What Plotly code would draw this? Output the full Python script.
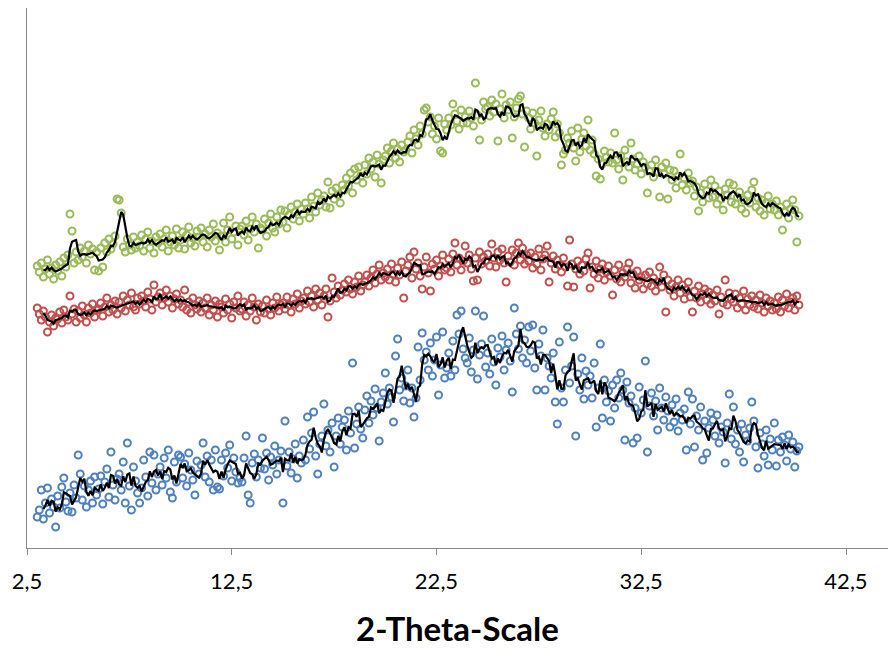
import numpy as np
import pandas as pd
import plotly.graph_objects as go

# Diffraction patterns, intensity in arbitrary units (patterns are offset vertically).
# One reading every 0.1 degree 2-theta, starting at 3.0.
TWO_THETA_START = 3.0
TWO_THETA_STEP = 0.1

green_counts = [
    282, 276, 285, 271, 279, 288, 274, 280, 269, 283,
    277, 286, 272, 290, 281, 293, 334, 317, 285, 296,
    288, 300, 291, 297, 285, 303, 294, 299, 278, 296,
    277, 300, 281, 305, 296, 309, 299, 304, 312, 349,
    348, 335, 301, 296, 309, 303, 298, 311, 300, 306,
    302, 313, 297, 309, 316, 300, 307, 295, 311, 305,
    314, 301, 309, 318, 297, 306, 312, 303, 319, 300,
    308, 316, 299, 313, 321, 305, 310, 302, 317, 311,
    320, 306, 314, 301, 318, 311, 324, 307, 315, 298,
    312, 325, 306, 318, 331, 309, 316, 322, 303, 319,
    322, 313, 327, 308, 319, 331, 316, 324, 300, 320,
    318, 329, 312, 325, 334, 320, 316, 331, 324, 338,
    326, 337, 320, 333, 341, 329, 336, 344, 327, 339,
    334, 345, 339, 330, 351, 342, 336, 355, 343, 348,
    352, 341, 366, 340, 357, 349, 360, 353, 345, 363,
    358, 370, 362, 375, 355, 379, 368, 381, 372, 365,
    383, 374, 390, 379, 386, 371, 393, 384, 365, 388,
    392, 400, 385, 397, 405, 390, 399, 386, 403, 396,
    398, 406, 412, 395, 418, 409, 403, 422, 414, 438,
    440, 426, 431, 414, 422, 409, 430, 397, 395, 424,
    418, 430, 423, 444, 434, 427, 419, 438, 425, 431,
    425, 437, 430, 422, 465, 433, 408, 428, 446, 439,
    441, 432, 448, 436, 444, 407, 439, 454, 430, 443,
    438, 446, 410, 431, 440, 449, 452, 434, 401, 437,
    430, 419, 435, 425, 392, 428, 437, 420, 412, 424,
    418, 429, 436, 411, 424, 415, 383, 394, 398, 410,
    405, 417, 400, 387, 420, 396, 409, 415, 402, 428,
    398, 408, 394, 372, 389, 369, 384, 397, 391, 386,
    395, 385, 415, 388, 379, 392, 368, 398, 386, 381,
    405, 389, 378, 384, 392, 374, 386, 381, 355, 377,
    383, 371, 388, 376, 351, 381, 374, 385, 349, 378,
    368, 377, 360, 372, 394, 363, 370, 358, 375, 365,
    367, 352, 361, 337, 355, 346, 364, 357, 350, 368,
    351, 362, 344, 357, 349, 338, 359, 353, 365, 346,
    363, 344, 351, 356, 339, 348, 335, 353, 345, 358,
    366, 341, 350, 337, 348, 333, 345, 352, 339, 344,
    338, 347, 333, 341, 318, 336, 344, 330, 339, 348,
    338, 306, 332,
]

red_counts = [
    240, 234, 228, 237, 231, 216, 226, 233, 222, 230,
    229, 236, 225, 238, 231, 228, 252, 234, 239, 226,
    237, 230, 242, 233, 226, 240, 235, 244, 231, 238,
    239, 245, 232, 241, 250, 236, 243, 238, 247, 234,
    246, 240, 252, 237, 248, 243, 255, 241, 238, 250,
    244, 252, 247, 241, 256, 249, 238, 263, 246, 251,
    255, 243, 250, 258, 246, 252, 240, 249, 254, 244,
    248, 241, 258, 238, 246, 235, 250, 243, 239, 247,
    236, 245, 240, 250, 233, 243, 238, 247, 231, 244,
    241, 235, 249, 238, 244, 230, 246, 240, 252, 237,
    239, 246, 232, 243, 237, 250, 241, 228, 244, 236,
    242, 235, 248, 239, 233, 245, 240, 251, 237, 243,
    245, 239, 251, 243, 236, 249, 244, 254, 240, 247,
    250, 244, 257, 246, 252, 241, 259, 248, 255, 243,
    252, 259, 231, 247, 270, 256, 250, 262, 253, 258,
    264, 256, 268, 259, 254, 266, 261, 272, 257, 263,
    266, 273, 262, 270, 278, 265, 274, 283, 268, 275,
    271, 279, 268, 284, 274, 266, 280, 273, 286, 250,
    277, 283, 291, 270, 296, 279, 285, 272, 259, 281,
    291, 275, 257, 284, 279, 288, 272, 282, 293, 278,
    280, 289, 276, 294, 305, 283, 290, 278, 287, 302,
    285, 293, 279, 267, 290, 268, 296, 284, 291, 287,
    294, 282, 304, 290, 281, 296, 288, 299, 285, 266,
    292, 286, 298, 283, 295, 305, 288, 300, 284, 293,
    287, 295, 280, 291, 284, 299, 278, 289, 293, 302,
    266, 285, 292, 279, 288, 283, 276, 290, 281, 262,
    308, 284, 261, 279, 287, 274, 283, 277, 289, 295,
    260, 281, 274, 287, 270, 279, 284, 268, 276, 282,
    272, 253, 278, 269, 283, 266, 275, 271, 279, 285,
    265, 274, 260, 277, 268, 271, 259, 273, 264, 276,
    262, 270, 257, 266, 281, 261, 273, 236, 268, 258,
    264, 252, 261, 268, 255, 263, 249, 258, 266, 251,
    236, 257, 250, 262, 246, 254, 259, 248, 256, 244,
    253, 247, 258, 234, 251, 245, 268, 243, 255, 249,
    246, 254, 240, 250, 244, 257, 238, 249, 243, 252,
    241, 248, 239, 253, 245, 236, 250, 242, 247, 238,
    245, 239, 251, 236, 248, 242, 254, 240, 246, 250,
    238, 252, 243,
]

blue_counts = [
    31, 38, 58, 29, 45, 60, 35, 49, 41, 21,
    52, 40, 61, 70, 46, 37, 55, 36, 63, 50,
    93, 74, 48, 62, 41, 58, 67, 45, 71, 53,
    59, 72, 44, 66, 79, 51, 96, 63, 48, 69,
    74, 58, 86, 45, 105, 62, 38, 81, 67, 55,
    45, 60, 88, 71, 52, 96, 65, 93, 58, 74,
    81, 63, 90, 70, 98, 56, 50, 86, 66, 93,
    91, 70, 84, 62, 95, 78, 68, 53, 87, 74,
    83, 105, 71, 92, 66, 88, 58, 98, 61, 59,
    88, 72, 95, 80, 103, 67, 90, 76, 65, 70,
    66, 90, 112, 53, 45, 85, 94, 71, 88, 80,
    110, 79, 95, 68, 91, 83, 102, 74, 88, 97,
    45, 127, 82, 96, 75, 89, 104, 70, 92, 85,
    108, 88, 131, 99, 115, 136, 92, 74, 104, 112,
    144, 102, 118, 96, 125, 81, 112, 130, 104, 121,
    128, 98, 137, 115, 185, 100, 124, 141, 119, 110,
    138, 152, 125, 147, 133, 159, 140, 107, 146, 155,
    175, 144, 160, 151, 126, 192, 209, 158, 170, 147,
    162, 178, 145, 160, 131, 150, 201, 168, 215, 188,
    196, 178, 205, 172, 188, 211, 153, 183, 216, 170,
    180, 195, 172, 207, 178, 233, 214, 237, 199, 190,
    185, 210, 176, 198, 237, 169, 193, 204, 232, 181,
    195, 174, 209, 186, 163, 200, 191, 212, 178, 198,
    205, 187, 156, 240, 214, 199, 222, 190, 208, 185,
    221, 197, 223, 180, 158, 204, 192, 218, 158, 190,
    182, 170, 195, 146, 124, 206, 160, 146, 178, 221,
    165, 182, 211, 112, 174, 158, 190, 149, 177, 163,
    172, 150, 185, 121, 160, 204, 130, 168, 146, 157,
    127, 163, 140, 168, 150, 175, 158, 108, 166, 145,
    152, 105, 140, 110, 161, 135, 148, 187, 96, 142,
    155, 132, 147, 118, 160, 140, 128, 151, 137, 121,
    143, 126, 149, 117, 135, 128, 139, 98, 156, 124,
    149, 101, 132, 118, 141, 88, 127, 95, 120, 135,
    128, 112, 133, 105, 121, 116, 85, 125, 154, 109,
    141, 104, 118, 96, 124, 86, 113, 107, 120, 146,
    127, 101, 80, 115, 104, 92, 118, 83, 109, 98,
    125, 82, 108, 96, 111, 103, 87, 113, 99, 106,
    81, 97, 101,
]

tick_values = [2.5, 12.5, 22.5, 32.5, 42.5]
tick_labels = ["2,5", "12,5", "22,5", "32,5", "42,5"]
axis_title = "2-Theta-Scale"

# moving-average trendline period (in readings)
TREND_PERIOD = 4

series = [
    ("#9bbb59", green_counts),
    ("#c0504d", red_counts),
    ("#4f81bd", blue_counts),
]

fig = go.Figure()
for color, counts in series:
    two_theta = TWO_THETA_START + TWO_THETA_STEP * np.arange(len(counts))
    fig.add_trace(go.Scatter(
        x=two_theta, y=counts, mode="markers",
        marker=dict(symbol="circle-open", size=7, color=color,
                    line=dict(width=2, color=color)),
        showlegend=False, hoverinfo="skip",
    ))
for color, counts in series:
    two_theta = TWO_THETA_START + TWO_THETA_STEP * np.arange(len(counts))
    trend = pd.Series(counts, dtype=float).rolling(TREND_PERIOD).mean()
    fig.add_trace(go.Scatter(
        x=two_theta, y=trend, mode="lines",
        line=dict(color="black", width=2.2),
        showlegend=False, hoverinfo="skip",
    ))

PLOT_LEFT = 27
WIDTH, HEIGHT = 888, 648
x_right = 2.5 + (WIDTH - PLOT_LEFT) / ((846 - PLOT_LEFT) / 40.0)

fig.update_layout(
    width=WIDTH, height=HEIGHT,
    margin=dict(l=PLOT_LEFT, r=0, t=8, b=100),
    paper_bgcolor="white", plot_bgcolor="white",
    font=dict(family="Lato, Open Sans, sans-serif", color="black"),
    xaxis=dict(
        range=[2.5, x_right],
        tickvals=tick_values, ticktext=tick_labels,
        ticks="outside", ticklen=6, tickcolor="#898989", tickwidth=1,
        showline=True, linecolor="#898989", linewidth=1,
        showgrid=False, zeroline=False,
        tickfont=dict(size=22, family="Lato, sans-serif"),
        ticklabelstandoff=8,
        title=dict(text="<b>" + axis_title + "</b>",
                   font=dict(size=33, family="Lato, sans-serif"),
                   standoff=24),
    ),
    yaxis=dict(
        range=[0, 540],
        showline=True, linecolor="#898989", linewidth=1,
        showticklabels=False, ticks="", showgrid=False, zeroline=False,
    ),
)

fig.write_html("out.html")
